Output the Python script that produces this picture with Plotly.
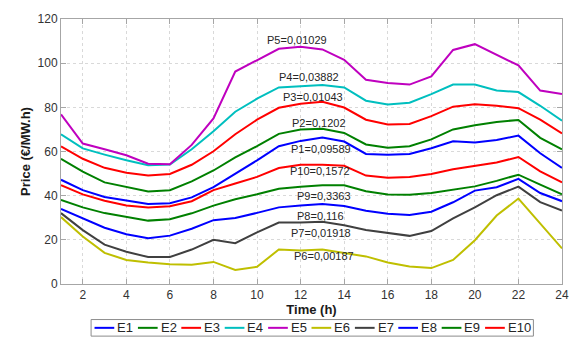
import plotly.graph_objects as go

# Hourly electricity price scenarios (€/MW.h)
hours = list(range(1, 25))

E1 = [47.2, 42.5, 39.4, 37.7, 36.2, 36.6, 39.2, 43.9, 49.8, 56.0, 62.4, 64.8,
      66.3, 64.5, 58.9, 58.5, 58.9, 61.5, 64.6, 64.1, 65.2, 67.2, 59.2, 52.6]
E2 = [56.7, 50.9, 46.0, 44.0, 41.9, 42.5, 46.5, 51.4, 57.3, 62.4, 68.0, 70.0,
      70.3, 68.4, 63.2, 61.7, 62.4, 65.5, 70.0, 71.9, 73.4, 74.3, 66.2, 61.0]
E3 = [62.3, 56.7, 52.6, 50.4, 49.1, 49.8, 54.0, 60.1, 67.8, 74.4, 79.8, 81.6,
      82.5, 79.9, 74.4, 72.2, 72.5, 76.0, 80.3, 81.4, 80.7, 79.6, 74.4, 68.2]
E4 = [67.8, 61.4, 58.6, 56.0, 53.8, 54.1, 61.0, 69.2, 78.0, 83.9, 89.0, 89.5,
      90.1, 89.0, 83.0, 81.3, 82.1, 86.0, 90.3, 90.3, 87.6, 86.9, 80.7, 73.9]
E5 = [76.8, 63.6, 61.0, 58.3, 54.5, 54.2, 63.0, 75.0, 96.2, 101.5, 106.5, 107.4,
      106.2, 101.5, 92.5, 91.0, 90.3, 94.0, 106.0, 108.6, 103.7, 99.0, 87.6, 86.0]
E6 = [30.3, 21.5, 14.1, 10.9, 9.7, 9.0, 8.7, 10.0, 6.4, 7.8, 15.6, 15.2,
      15.6, 14.1, 12.5, 9.7, 7.9, 7.2, 10.9, 19.8, 31.0, 38.7, 27.4, 16.1]
E7 = [32.1, 24.4, 17.8, 14.6, 12.2, 12.2, 15.6, 20.0, 18.5, 23.4, 27.8, 27.8,
      28.2, 26.6, 24.5, 23.0, 21.8, 24.0, 29.7, 34.7, 40.2, 44.1, 37.1, 33.3]
E8 = [34.0, 29.9, 25.5, 22.5, 20.7, 21.9, 25.0, 28.9, 29.9, 32.2, 34.7, 35.5,
      36.2, 35.3, 33.2, 31.8, 31.3, 32.7, 37.0, 42.3, 43.8, 47.6, 41.2, 37.5]
E9 = [38.1, 34.7, 32.1, 30.3, 28.7, 29.3, 32.0, 35.5, 38.4, 40.6, 43.1, 44.0,
      44.7, 44.7, 42.0, 40.5, 40.4, 41.2, 42.7, 44.2, 46.7, 49.5, 45.0, 40.6]
E10 = [44.7, 40.6, 37.7, 35.5, 34.6, 35.2, 37.5, 42.5, 45.5, 48.5, 52.5, 54.0,
       54.0, 53.5, 49.1, 48.1, 48.5, 49.8, 52.0, 53.5, 55.0, 57.5, 51.0, 46.0]

series_names = ["E1", "E2", "E3", "E4", "E5", "E6", "E7", "E8", "E9", "E10"]
series_values = [E1, E2, E3, E4, E5, E6, E7, E8, E9, E10]

# Scenario probability labels
prob_labels = ["P5=0,01029", "P4=0,03882", "P3=0,01043", "P2=0,1202",
               "P1=0,09589", "P10=0,1572", "P9=0,3363", "P8=0,116",
               "P7=0,01918", "P6=0,00187"]
prob_x = [11.85, 12.39, 12.59, 12.86, 12.95, 12.9, 13.06, 12.93, 12.95, 13.06]
prob_y = [110.6, 93.6, 84.8, 73.1, 61.3, 51.0, 39.7, 30.9, 23.1, 12.8]

x_ticks = list(range(2, 25, 2))
y_ticks = list(range(0, 121, 20))

colors = ["#0000ff", "#008000", "#ff0000", "#00bfbf", "#bf00bf",
          "#bfbf00", "#404040", "#0000ff", "#008000", "#ff0000"]

FONT = "Liberation Sans, Arial, sans-serif"
W_FIG, H_FIG = 581, 339
M_L, M_R, M_T, M_B = 61, 12, 12, 55
PW = W_FIG - M_L - M_R
PH = H_FIG - M_T - M_B


def paper_x(px):
    return (px - M_L) / PW


def paper_y(py):
    return (H_FIG - M_B - py) / PH


fig = go.Figure()
for name, vals, col in zip(series_names, series_values, colors):
    fig.add_trace(go.Scatter(x=hours, y=vals, mode="lines", name=name,
                             line=dict(color=col, width=2),
                             showlegend=False))

annotations = []
for txt, ax, ay in zip(prob_labels, prob_x, prob_y):
    annotations.append(dict(x=ax, y=ay, xref="x", yref="y", text=txt,
                            showarrow=False, xanchor="center", yanchor="middle",
                            font=dict(family=FONT, size=11, color="#262626")))

# Single-row boxed legend below the axis
shapes = []
leg_left, leg_right = 91.5, 540
leg_top, leg_bot = 320.5, 337.5
leg_mid = (leg_top + leg_bot) / 2
shapes.append(dict(type="rect", xref="paper", yref="paper",
                   x0=paper_x(leg_left), x1=paper_x(leg_right),
                   y0=paper_y(leg_bot), y1=paper_y(leg_top),
                   line=dict(color="#8c8c8c", width=1), fillcolor="white"))
for i, (name, col) in enumerate(zip(series_names, colors)):
    x0 = 95 + 44 * i
    shapes.append(dict(type="line", xref="paper", yref="paper",
                       x0=paper_x(x0), x1=paper_x(x0 + 20),
                       y0=paper_y(leg_mid), y1=paper_y(leg_mid),
                       line=dict(color=col, width=2)))
    annotations.append(dict(x=paper_x(x0 + 21), y=paper_y(leg_mid),
                            xref="paper", yref="paper", text=name,
                            showarrow=False, xanchor="left", yanchor="middle",
                            font=dict(family=FONT, size=13, color="#262626")))

axis_common = dict(showline=True, linecolor="#a6a6a6", linewidth=1,
                   mirror="ticks", ticks="inside", ticklen=5,
                   tickcolor="#a6a6a6", showgrid=True, gridcolor="#d9d9d9",
                   griddash="dot", gridwidth=1, zeroline=False,
                   tickfont=dict(family=FONT, size=12, color="#333333"))

fig.update_layout(
    width=W_FIG, height=H_FIG,
    margin=dict(l=M_L, r=M_R, t=M_T, b=M_B),
    paper_bgcolor="white", plot_bgcolor="white",
    showlegend=False,
    xaxis=dict(range=[1, 24], tickvals=x_ticks,
               title=dict(text="<b>Time (h)</b>", standoff=2,
                          font=dict(family=FONT, size=13, color="#1a1a1a")),
               **axis_common),
    yaxis=dict(range=[0, 120], tickvals=y_ticks,
               title=dict(text="<b>Price (€/MW.h)</b>", standoff=4,
                          font=dict(family=FONT, size=13, color="#1a1a1a")),
               **axis_common),
    annotations=annotations,
    shapes=shapes,
)

fig.write_html("out.html")
